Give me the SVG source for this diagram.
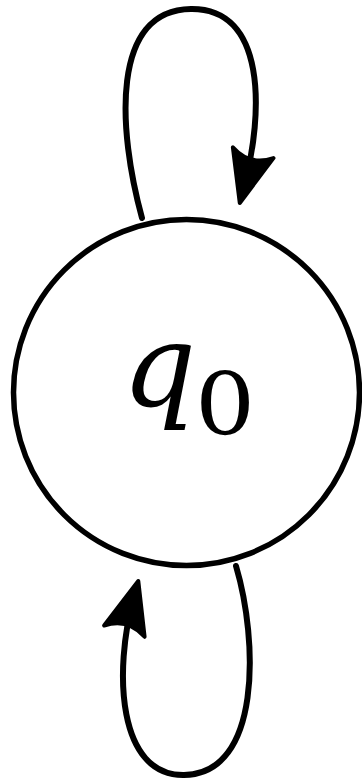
<svg xmlns="http://www.w3.org/2000/svg" width="362" height="780" viewBox="0 0 362 780">
<style>
.node{fill:#fff;stroke:#000;stroke-width:5.5}
.edge{fill:none;stroke:#000;stroke-width:6;stroke-linecap:round}
.lbl{fill:#000;font-family:'DejaVu Serif','Liberation Serif',serif}
</style>
<defs>
<marker id="arr" markerUnits="userSpaceOnUse" markerWidth="90" markerHeight="60" refX="0" refY="0" orient="auto" overflow="visible">
<path d="M16,0 L-36,-21 Q-22,0 -36,21 Z" fill="#000" stroke="#000" stroke-width="4" stroke-linejoin="round"/>
</marker>
</defs>
<g id="connectors">
<path class="edge" d="M142,218 C118,130 110,10 191,9 C266,8 264,112 243.9,187.5" marker-end="url(#arr)"/>
<path class="edge" d="M236,566 C258,640 262,774 184,775 C118,776 113,672 134,596.5" marker-end="url(#arr)"/>
</g>
<g id="q0">
<circle class="node" cx="186.5" cy="392.5" r="173"/>
<text class="lbl" x="122" y="406" font-size="116" font-style="italic">q</text>
<text class="lbl" x="195" y="435" font-size="86" transform="translate(195 435) scale(1.1 1) translate(-195 -435)">0</text>
</g>
</svg>
